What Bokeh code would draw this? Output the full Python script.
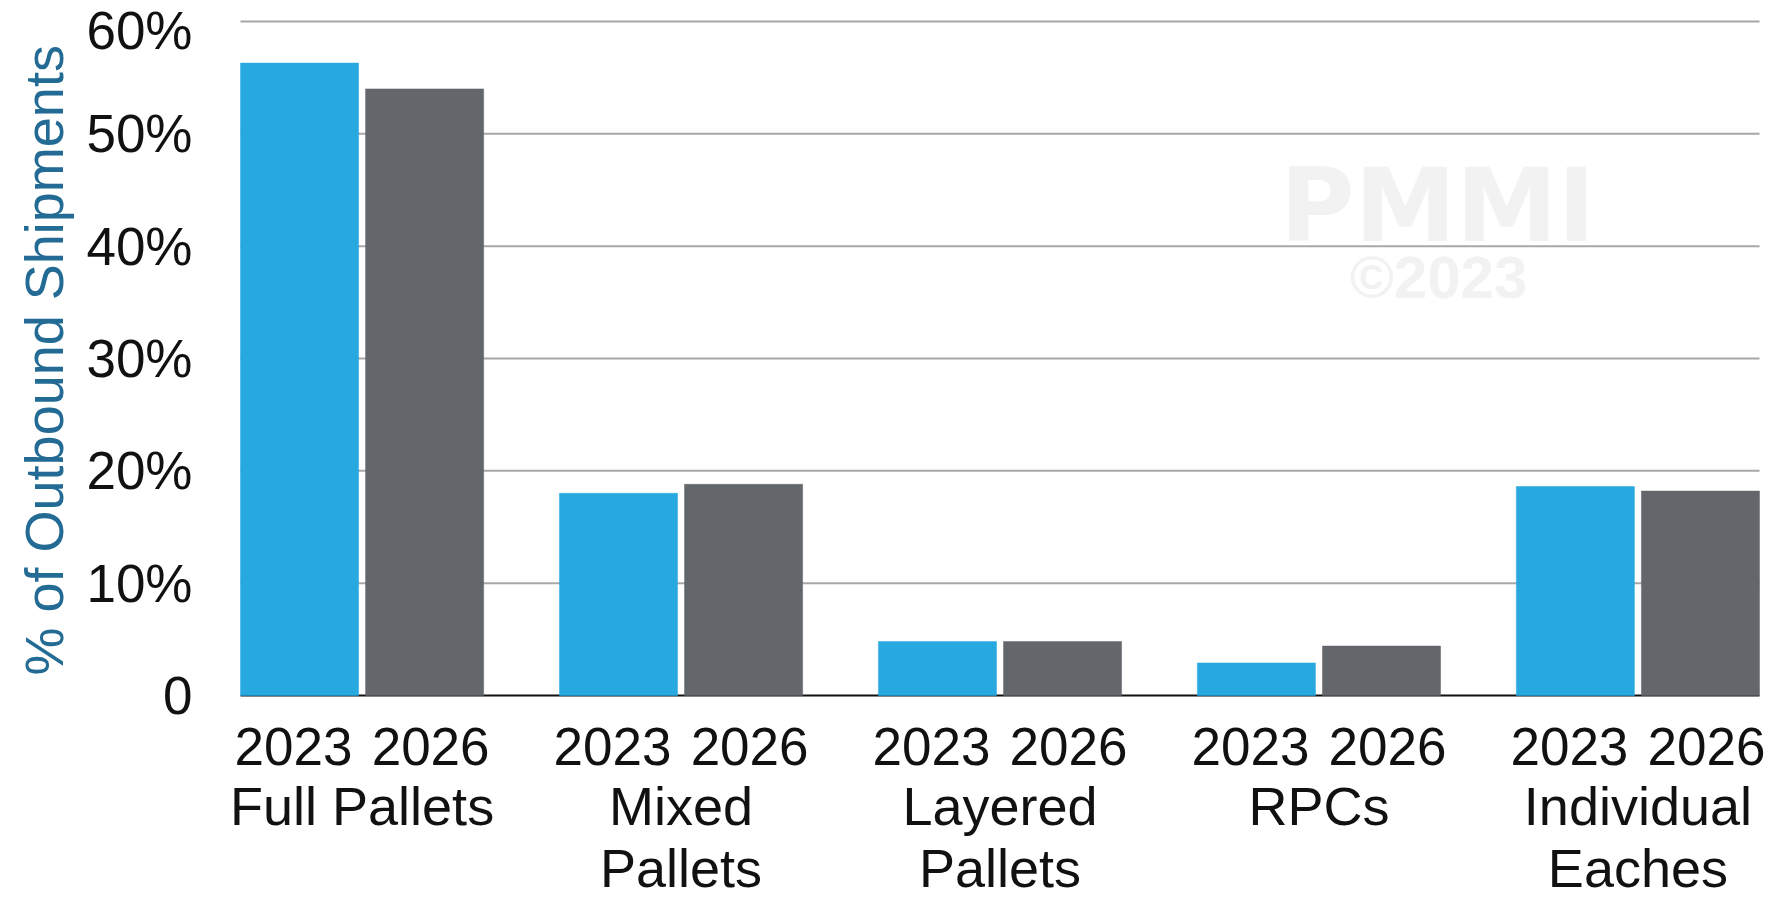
from bokeh.plotting import figure
from bokeh.models import ColumnDataSource, Range1d, FixedTicker, Label, Title
from bokeh.embed import file_html
from bokeh.resources import INLINE
from bokeh.core.properties import value

# ---- data ----
categories = ["Full Pallets", "Mixed\nPallets", "Layered\nPallets", "RPCs", "Individual\nEaches"]
years = ["2023", "2026"]
share_2023 = [56.3, 18.0, 4.8, 2.9, 18.6]
share_2026 = [54.0, 18.8, 4.8, 4.4, 18.2]
y_ticks = [0, 10, 20, 30, 40, 50, 60]
y_tick_labels = ["0", "10%", "20%", "30%", "40%", "50%", "60%"]
year_colors = ["#27A9E0", "#63666B"]

# ---- layout constants ----
PAIR = 100          # distance between the two bars of a pair (x units)
GROUP = 255         # distance between groups (x units)
BAR_W = 94.4        # bar width (x units)
FONT = "Liberation Sans"

W, H = 1772, 900
FRAME_L, FRAME_T = 220, 19          # frame edges (px)
PLOT_L, PLOT_R = 240, 1759          # where the bar area starts / ends (px)
Y0_PX, Y60_PX = 695, 21             # pixel rows of 0 % and 60 %

xs, tops, cols, ylabs, yoffs = [], [], [], [], []
for g in range(len(categories)):
    for j, series in enumerate((share_2023, share_2026)):
        xs.append(g * GROUP + j * PAIR)
        tops.append(series[g])
        cols.append(year_colors[j])
        ylabs.append(years[j])
        yoffs.append(-6 if j == 0 else 6)
bars = ColumnDataSource(dict(x=xs, top=tops, color=cols))
year_src = ColumnDataSource(dict(x=xs, text=ylabs, xo=yoffs))

group_centers = [g * GROUP + PAIR / 2 for g in range(len(categories))]
lab_x, lab_t, lab_o = [], [], []
for gc, cat in zip(group_centers, categories):
    for k, line in enumerate(cat.split("\n")):
        lab_x.append(gc)
        lab_t.append(line)
        lab_o.append(110 + 62 * k)
cat_src = ColumnDataSource(dict(x=lab_x, text=lab_t, yo=lab_o))

# ranges: bars fill PLOT_L..PLOT_R, frame reaches the right and bottom edges
bar_lo = -BAR_W / 2
bar_hi = (len(categories) - 1) * GROUP + PAIR + BAR_W / 2
upx = (bar_hi - bar_lo) / (PLOT_R - PLOT_L)
x_range = Range1d(bar_lo - (PLOT_L - FRAME_L) * upx, bar_hi + (W - PLOT_R) * upx)
vpx = 60 / (Y0_PX - Y60_PX)
y_range = Range1d(-(H - Y0_PX) * vpx, 60 + (Y60_PX - FRAME_T) * vpx)

p = figure(x_range=x_range, y_range=y_range,
           width=W, height=H, title=None,
           output_backend="svg", toolbar_location=None,
           x_axis_location=None,
           min_border_left=FRAME_L, min_border_right=0,
           min_border_top=FRAME_T, min_border_bottom=0)
p.outline_line_color = None
p.xgrid.grid_line_color = None
p.ygrid.grid_line_color = None

# gridlines and baseline limited to the bar area
p.segment(x0=bar_lo, x1=bar_hi, y0=y_ticks[1:], y1=y_ticks[1:],
          line_color="#a8a8a8", line_width=2)
p.segment(x0=bar_lo, x1=bar_hi, y0=0, y1=0, line_color="#111111", line_width=2)

p.vbar(x="x", top="top", bottom=0, width=BAR_W, source=bars,
       fill_color="color", line_color="color", line_alpha=0.5)

# y axis
ya = p.yaxis[0]
ya.bounds = (0, 60)
ya.ticker = FixedTicker(ticks=y_ticks)
ya.major_label_overrides = {t: l for t, l in zip(y_ticks, y_tick_labels)}
ya.axis_line_color = None
ya.major_tick_line_color = None
ya.minor_tick_line_color = None
ya.major_tick_out = 0
ya.major_label_text_font = FONT
ya.major_label_text_font_size = "53px"
ya.major_label_text_color = "#111111"
ya.major_label_standoff = 28

# y axis title, centred on the 0-60 % span (starts at the bottom, offset from frame bottom)
p.add_layout(Title(text="% of Outbound Shipments", align="left", offset=225,
                   text_font=FONT, text_font_size="54px", text_font_style="normal",
                   text_color="#236B94", standoff=19), "left")

# year labels under the bars
p.text(x="x", y=0, text="text", source=year_src, x_offset="xo", y_offset=51,
       text_font=value(FONT), text_font_size="53px", text_color="#111111",
       text_align="center", text_baseline="alphabetic")
# category names
p.text(x="x", y=0, text="text", source=cat_src, y_offset="yo",
       text_font=value(FONT), text_font_size="54px", text_color="#111111",
       text_align="center", text_baseline="alphabetic")

# watermark
p.add_layout(Label(x=1437 - FRAME_L, y=H - 205, x_units="screen", y_units="screen", text="PMMI",
                   text_font="DejaVu Sans", text_font_style="bold", text_font_size="102px",
                   text_color="#f2f2f2", text_align="center", text_baseline="middle",
                   level="underlay"))
p.add_layout(Label(x=1438 - FRAME_L, y=H - 277, x_units="screen", y_units="screen", text="©2023",
                   text_font=FONT, text_font_style="bold", text_font_size="60px",
                   text_color="#f2f2f2", text_align="center", text_baseline="middle",
                   level="underlay"))

open("out.html", "w").write(file_html(p, INLINE))
